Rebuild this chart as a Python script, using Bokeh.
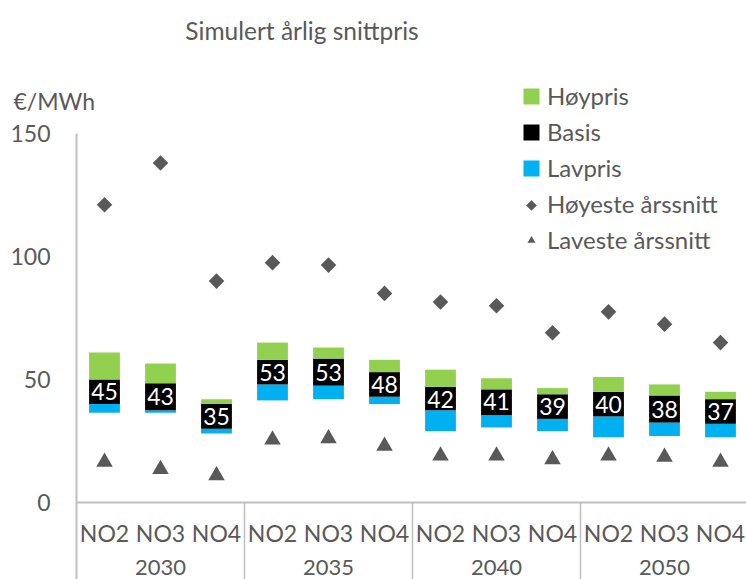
import math
from bokeh.plotting import figure
from bokeh.models import Range1d, Legend, LegendItem
from bokeh.core.properties import value
from bokeh.embed import file_html
from bokeh.resources import INLINE

# ---- data ----
years = ["2030", "2035", "2040", "2050"]
areas = ["NO2", "NO3", "NO4"]
basis = [45, 43, 35, 53, 53, 48, 42, 41, 39, 40, 38, 37]
lavpris_bunn = [36.5, 36.5, 28, 41.5, 42, 40, 29, 30.5, 29, 26.5, 27, 26.5]
basis_bunn = [40, 37.5, 30, 48, 47.5, 43, 37.5, 35.5, 34, 35, 32.5, 32]
basis_topp = [50, 48.5, 40, 58, 58.5, 53, 47, 46, 44, 45, 43.5, 42]
hoypris_topp = [61, 56.5, 42, 65, 63, 58, 54, 50.5, 46.5, 51, 48, 45]
hoyeste = [121, 138, 90, 97.5, 96.5, 85, 81.5, 80, 69, 77.5, 72.5, 65]
laveste = [16.5, 13.5, 11, 25.5, 26, 23, 19, 19, 17.5, 19, 18.5, 16.5]
y_ticks = [0, 50, 100, 150]

title_text = "Simulert årlig snittpris"
unit_text = "€/MWh"
legend_labels = ["Høypris", "Basis", "Lavpris", "Høyeste årssnitt",
                 "Laveste årssnitt"]

# ---- styles ----
FONT = value("Lato")
GREY = "#595959"
AXIS = "#BFBFBF"
C_HOY = "#92D050"
C_BAS = "#000000"
C_LAV = "#00B0F0"

n_cat = len(years) * len(areas)
x = [i + 0.5 for i in range(n_cat)]
cat_labels = [a for _ in years for a in areas]
year_x = [len(areas) * g + len(areas) / 2 for g in range(len(years))]

PX_PER_UNIT = 2.46
SLOT_PX = 56
Y_BOTTOM = -77 / PX_PER_UNIT
Y_TOP = 502 / PX_PER_UNIT

p = figure(width=746, height=579, output_backend="svg", toolbar_location=None,
           x_range=Range1d(-76 / SLOT_PX, 670 / SLOT_PX),
           y_range=Range1d(Y_BOTTOM, Y_TOP),
           x_axis_type=None, y_axis_type=None, min_border=0,
           outline_line_color=None)
p.grid.visible = False

W = 0.55
r_lav = p.vbar(x=x, width=W, bottom=lavpris_bunn, top=basis_bunn,
               fill_color=C_LAV, line_color=None)
r_bas = p.vbar(x=x, width=W, bottom=basis_bunn, top=basis_topp,
               fill_color=C_BAS, line_color=None)
r_hoy = p.vbar(x=x, width=W, bottom=basis_topp, top=hoypris_topp,
               fill_color=C_HOY, line_color=None)

p.text(x=x, y=basis, text=[str(b) for b in basis], text_align="center",
       text_baseline="middle", text_color="white", text_font=FONT,
       text_font_size="23px")

r_max = p.scatter(x=x, y=hoyeste, marker="square", angle=math.pi / 4,
                  size=11, fill_color=GREY, line_color=None)
r_min = p.scatter(x=x, y=laveste, marker="triangle", size=16.5,
                  fill_color=GREY, line_color=None)

# axis lines and group separators
p.segment(x0=[0], y0=[y_ticks[-1]], x1=[0], y1=[Y_BOTTOM], line_color=AXIS,
          line_width=2)
p.segment(x0=[0], y0=[0], x1=[n_cat], y1=[0], line_color=AXIS, line_width=2)
sep = [len(areas) * g for g in range(1, len(years) + 1)]
p.segment(x0=sep, y0=[0] * len(sep), x1=sep, y1=[Y_BOTTOM] * len(sep),
          line_color=AXIS, line_width=1.5)

# tick labels
p.text(x=[-26 / SLOT_PX] * len(y_ticks), y=y_ticks,
       text=[str(t) for t in y_ticks],
       text_align="right", text_baseline="middle", text_color=GREY,
       text_font=FONT, text_font_size="23px")
# category labels
p.text(x=x, y=[-12.6] * n_cat, text=cat_labels, text_align="center",
       text_baseline="middle", text_color=GREY, text_font=FONT,
       text_font_size="23px")
p.text(x=year_x, y=[-26.6] * len(years), text=years, text_align="center",
       text_baseline="middle", text_color=GREY, text_font=FONT,
       text_font_size="22px")
# title and unit
p.text(x=[4.027], y=[191.9], text=[title_text], text_align="center",
       text_baseline="middle", text_color=GREY, text_font=FONT,
       text_font_size="24.5px")
p.text(x=[-63 / SLOT_PX], y=[163.4], text=[unit_text], text_align="left",
       text_baseline="middle", text_color=GREY, text_font=FONT,
       text_font_size="23px")

# legend: the diamond entry uses an empty stand-in renderer (Bokeh legends
# draw markers unrotated) and its rotated-square symbol is drawn beneath it
r_max_leg = p.scatter(x=[], y=[], marker="square", fill_alpha=0,
                      line_alpha=0)
LEG_LEFT_PX, LEG_TOP_PX, LEG_PITCH_PX = 521, 86, 35
leg_glyph_x = (LEG_LEFT_PX + 10 - 76) / SLOT_PX
leg_glyph_y = (502 - (LEG_TOP_PX + 14 + 3 * LEG_PITCH_PX)) / PX_PER_UNIT
p.scatter(x=[leg_glyph_x], y=[leg_glyph_y], marker="square",
          angle=math.pi / 4, size=7.5, fill_color=GREY, line_color=None)

legend = Legend(items=[
    LegendItem(label=legend_labels[0], renderers=[r_hoy]),
    LegendItem(label=legend_labels[1], renderers=[r_bas]),
    LegendItem(label=legend_labels[2], renderers=[r_lav]),
    LegendItem(label=legend_labels[3], renderers=[r_max_leg]),
    LegendItem(label=legend_labels[4], renderers=[r_min]),
], location=(LEG_LEFT_PX, 325), padding=0, margin=0, spacing=7,
    glyph_height=20, glyph_width=20, label_standoff=6, label_height=20,
    label_text_font="Lato", label_text_font_size="24px",
    label_text_color=GREY, label_text_baseline="middle",
    border_line_color=None, background_fill_alpha=0)
p.add_layout(legend)

open("out.html", "w", encoding="utf-8").write(file_html(p, INLINE))
